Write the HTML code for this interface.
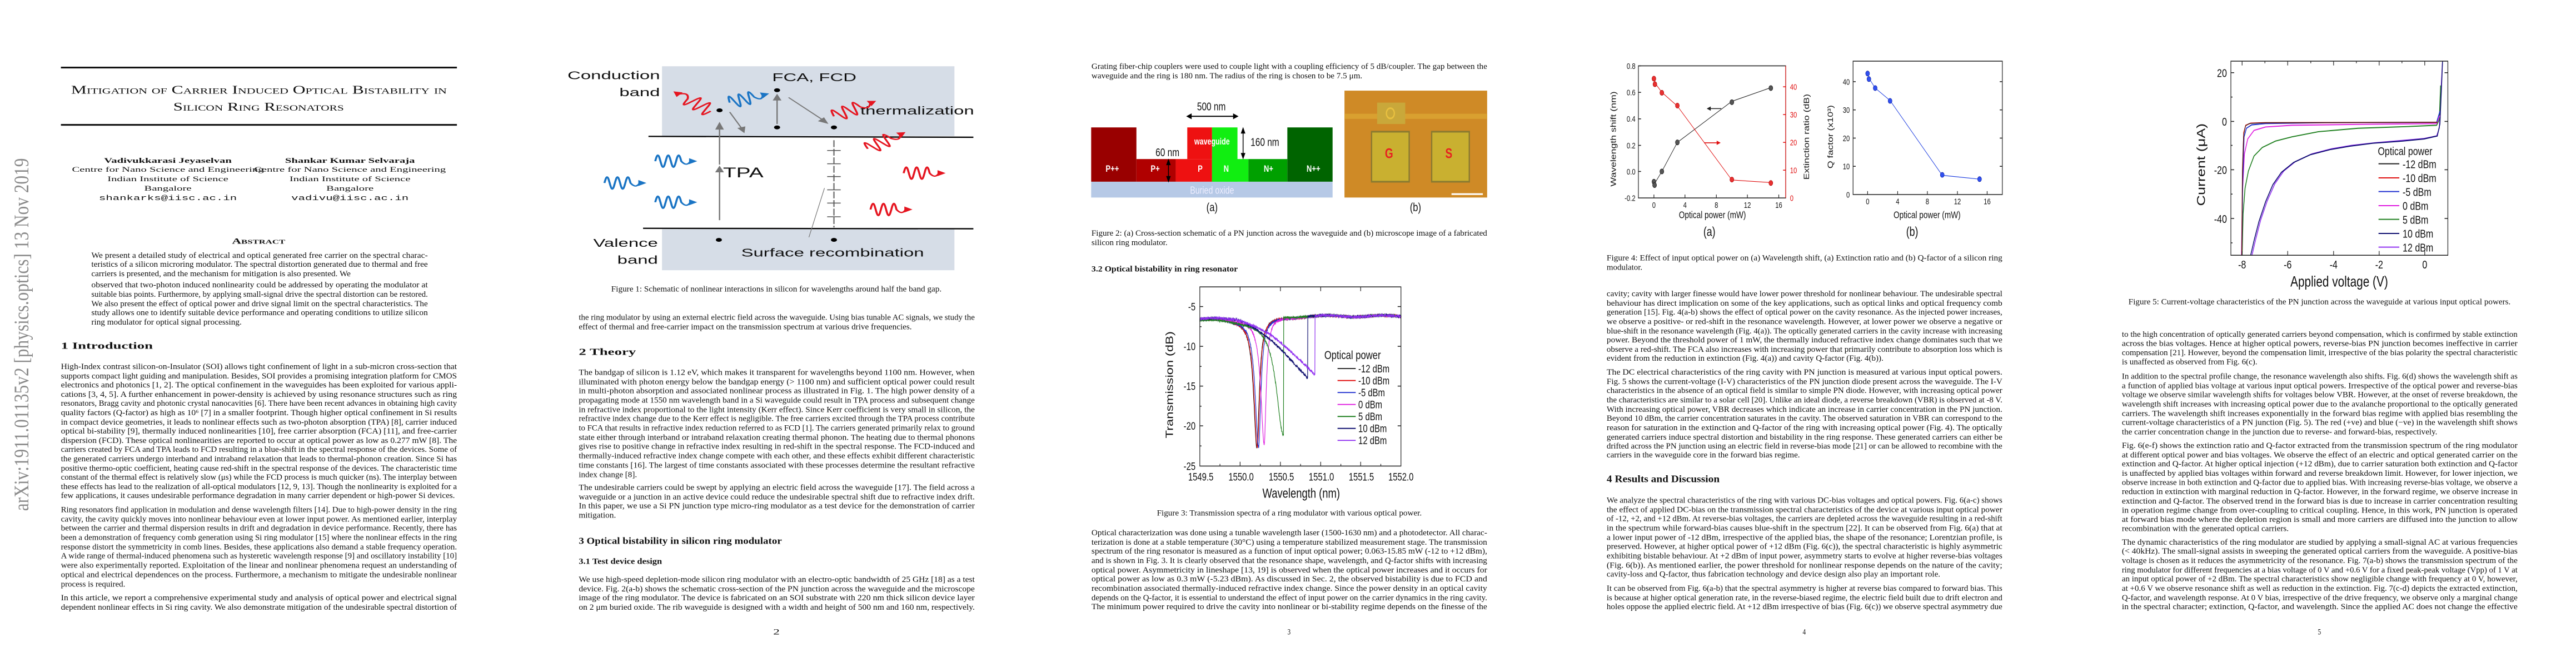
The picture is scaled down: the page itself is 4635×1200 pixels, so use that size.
<!DOCTYPE html>
<html><head><meta charset="utf-8">
<style>
body{margin:0;width:4635px;height:1200px;position:relative;background:#fff;overflow:hidden}
svg{position:absolute;top:0}
.s{font-family:"Liberation Serif",serif;font-size:19px;fill:#111}
.b{font-weight:bold}
.f{font-family:"Liberation Sans",sans-serif;fill:#111}
</style></head><body>

<!-- Pages 1-2 -->
<svg style="left:0" width="1900" height="1200" viewBox="0 0 1560 1560" preserveAspectRatio="none">
<text transform="translate(42,1195) rotate(-90)" textLength="825" lengthAdjust="spacingAndGlyphs" style="font-family:'Liberation Serif',serif;font-size:30px;fill:#8a8a8a">arXiv:1911.01135v2  [physics.optics]  13 Nov 2019</text>
<rect x="90" y="156" width="585" height="4" fill="#111"/>
<rect x="90" y="290" width="585" height="4" fill="#111"/>
<text class="s" x="105" y="219" textLength="555" lengthAdjust="spacingAndGlyphs" style="font-size:27px;font-variant:small-caps">Mitigation of Carrier Induced Optical Bistability in</text>
<text class="s" x="256" y="259" textLength="252" lengthAdjust="spacingAndGlyphs" style="font-size:27px;font-variant:small-caps">Silicon Ring Resonators</text>
<g class="s" text-anchor="middle" style="font-size:17px">
<text x="248" y="381" class="b">Vadivukkarasi Jeyaselvan</text>
<text x="248" y="402">Centre for Nano Science and Engineering</text>
<text x="248" y="424">Indian Institute of Science</text>
<text x="248" y="446">Bangalore</text>
<text x="248" y="468" style="font-family:'Liberation Mono',monospace">shankarks@iisc.ac.in</text>
<text x="517" y="381" class="b">Shankar Kumar Selvaraja</text>
<text x="517" y="402">Centre for Nano Science and Engineering</text>
<text x="517" y="424">Indian Institute of Science</text>
<text x="517" y="446">Bangalore</text>
<text x="517" y="468" style="font-family:'Liberation Mono',monospace">vadivu@iisc.ac.in</text>
<text x="382" y="570" class="b" style="font-size:19px;font-variant:small-caps">Abstract</text>
</g>
<g class="s">
<text x="135" y="603" textLength="497" lengthAdjust="spacingAndGlyphs">We present a detailed study of electrical and optical generated free carrier on the spectral charac-</text>
<text x="135" y="624" textLength="497" lengthAdjust="spacingAndGlyphs">teristics of a silicon microring modulator. The spectral distortion generated due to thermal and free</text>
<text x="135" y="646" textLength="383" lengthAdjust="spacingAndGlyphs">carriers is presented, and the mechanism for mitigation is also presented. We</text>
<text x="135" y="672" textLength="497" lengthAdjust="spacingAndGlyphs">observed that two-photon induced nonlinearity could be addressed by operating the modulator at</text>
<text x="135" y="694" textLength="497" lengthAdjust="spacingAndGlyphs">suitable bias points. Furthermore, by applying small-signal drive the spectral distortion can be restored.</text>
<text x="135" y="716" textLength="497" lengthAdjust="spacingAndGlyphs">We also present the effect of optical power and drive signal limit on the spectral characteristics. The</text>
<text x="135" y="737" textLength="497" lengthAdjust="spacingAndGlyphs">study allows one to identify suitable device performance and operating conditions to utilize silicon</text>
<text x="135" y="759" textLength="222" lengthAdjust="spacingAndGlyphs">ring modulator for optical signal processing.</text>
<text x="90" y="816" class="b" style="font-size:22px">1    Introduction</text>
<text x="90" y="863" textLength="585" lengthAdjust="spacingAndGlyphs">High-Index contrast silicon-on-Insulator (SOI) allows tight confinement of light in a sub-micron cross-section that</text>
<text x="90" y="885" textLength="585" lengthAdjust="spacingAndGlyphs">supports compact light guiding and manipulation. Besides, SOI provides a promising integration platform for CMOS</text>
<text x="90" y="906" textLength="585" lengthAdjust="spacingAndGlyphs">electronics and photonics [1, 2]. The optical confinement in the waveguides has been exploited for various appli-</text>
<text x="90" y="928" textLength="585" lengthAdjust="spacingAndGlyphs">cations [3, 4, 5]. A further enhancement in power-density is achieved by using resonance structures such as ring</text>
<text x="90" y="949" textLength="585" lengthAdjust="spacingAndGlyphs">resonators, Bragg cavity and photonic crystal nanocavities [6]. There have been recent advances in obtaining high cavity</text>
<text x="90" y="971" textLength="585" lengthAdjust="spacingAndGlyphs">quality factors (Q-factor) as high as 10⁶ [7] in a smaller footprint. Though higher optical confinement in Si results</text>
<text x="90" y="993" textLength="585" lengthAdjust="spacingAndGlyphs">in compact device geometries, it leads to nonlinear effects such as two-photon absorption (TPA) [8], carrier induced</text>
<text x="90" y="1014" textLength="585" lengthAdjust="spacingAndGlyphs">optical bi-stability [9], thermally induced nonlinearities [10], free carrier absorption (FCA) [11], and free-carrier</text>
<text x="90" y="1036" textLength="585" lengthAdjust="spacingAndGlyphs">dispersion (FCD). These optical nonlinearities are reported to occur at optical power as low as 0.277 mW [8]. The</text>
<text x="90" y="1057" textLength="585" lengthAdjust="spacingAndGlyphs">carriers created by FCA and TPA leads to FCD resulting in a blue-shift in the spectral response of the devices. Some of</text>
<text x="90" y="1079" textLength="585" lengthAdjust="spacingAndGlyphs">the generated carriers undergo interband and intraband relaxation that leads to thermal-phonon creation. Since Si has</text>
<text x="90" y="1101" textLength="585" lengthAdjust="spacingAndGlyphs">positive thermo-optic coefficient, heating cause red-shift in the spectral response of the devices. The characteristic time</text>
<text x="90" y="1122" textLength="585" lengthAdjust="spacingAndGlyphs">constant of the thermal effect is relatively slow (μs) while the FCD process is much quicker (ns). The interplay between</text>
<text x="90" y="1144" textLength="585" lengthAdjust="spacingAndGlyphs">these effects has lead to the realization of all-optical modulators [12, 9, 13]. Though the nonlinearity is exploited for a</text>
<text x="90" y="1165" textLength="582" lengthAdjust="spacingAndGlyphs">few applications, it causes undesirable performance degradation in many carrier dependent or high-power Si devices.</text>
<text x="90" y="1198" textLength="585" lengthAdjust="spacingAndGlyphs">Ring resonators find application in modulation and dense wavelength filters [14]. Due to high-power density in the ring</text>
<text x="90" y="1220" textLength="585" lengthAdjust="spacingAndGlyphs">cavity, the cavity quickly moves into nonlinear behaviour even at lower input power. As mentioned earlier, interplay</text>
<text x="90" y="1241" textLength="585" lengthAdjust="spacingAndGlyphs">between the carrier and thermal dispersion results in drift and degradation in device performance. Recently, there has</text>
<text x="90" y="1263" textLength="585" lengthAdjust="spacingAndGlyphs">been a demonstration of frequency comb generation using Si ring modulator [15] where the nonlinear effects in the ring</text>
<text x="90" y="1285" textLength="585" lengthAdjust="spacingAndGlyphs">response distort the symmetricity in comb lines. Besides, these applications also demand a stable frequency operation.</text>
<text x="90" y="1306" textLength="585" lengthAdjust="spacingAndGlyphs">A wide range of thermal-induced phenomena such as hysteretic wavelength response [9] and oscillatory instability [10]</text>
<text x="90" y="1328" textLength="585" lengthAdjust="spacingAndGlyphs">were also experimentally reported. Exploitation of the linear and nonlinear phenomena request an understanding of</text>
<text x="90" y="1350" textLength="585" lengthAdjust="spacingAndGlyphs">optical and electrical dependences on the process. Furthermore, a mechanism to mitigate the undesirable nonlinear</text>
<text x="90" y="1372" textLength="95" lengthAdjust="spacingAndGlyphs">process is required.</text>
<text x="90" y="1404" textLength="585" lengthAdjust="spacingAndGlyphs">In this article, we report a comprehensive experimental study and analysis of optical power and electrical signal</text>
<text x="90" y="1426" textLength="585" lengthAdjust="spacingAndGlyphs">dependent nonlinear effects in Si ring cavity. We also demonstrate mitigation of the undesirable spectral distortion of</text>
</g>

<!-- Figure 1 -->
<rect x="978" y="155" width="432" height="163" fill="#d6dde7"/>
<rect x="978" y="536" width="432" height="96" fill="#d6dde7"/>
<line x1="958" y1="319" x2="1438" y2="321" stroke="#000" stroke-width="3"/>
<line x1="950" y1="534" x2="1438" y2="535" stroke="#000" stroke-width="3"/>
<g class="f" style="font-size:27px">
<text x="975" y="185" text-anchor="end">Conduction</text>
<text x="975" y="225" text-anchor="end">band</text>
<text x="972" y="577" text-anchor="end">Valence</text>
<text x="972" y="617" text-anchor="end">band</text>
<text x="1203" y="190" text-anchor="middle">FCA, FCD</text>
<text x="1355" y="268" text-anchor="middle">thermalization</text>
<text x="1098" y="415" text-anchor="middle" style="font-size:32px">TPA</text>
<text x="1230" y="600" text-anchor="middle">Surface recombination</text>
</g>
<g stroke="#777" stroke-width="2" fill="#777">
<line x1="1063" y1="515" x2="1063" y2="400"/><polygon points="1058,402 1068,402 1063,390"/>
<line x1="1063" y1="385" x2="1063" y2="300"/><polygon points="1058,302 1068,302 1063,288"/>
<line x1="1148" y1="290" x2="1148" y2="230"/><polygon points="1143,234 1153,234 1148,222"/>
<line x1="1165" y1="228" x2="1218" y2="283"/><polygon points="1222,288 1210,283 1217,276"/>
<line x1="1078" y1="262" x2="1097" y2="303"/><polygon points="1099,309 1091,300 1100,297"/>
<line x1="1232" y1="328" x2="1232" y2="532" stroke-dasharray="16,4"/>
<line x1="1218" y1="440" x2="1195" y2="555" stroke-width="1"/>
</g>
<g stroke="#555" stroke-width="2">
<line x1="1222" y1="352" x2="1242" y2="352"/><line x1="1222" y1="383" x2="1242" y2="383"/><line x1="1222" y1="413" x2="1242" y2="413"/><line x1="1222" y1="444" x2="1242" y2="444"/><line x1="1222" y1="475" x2="1242" y2="475"/><line x1="1222" y1="507" x2="1242" y2="507"/>
</g>
<g fill="#000"><circle cx="1063" cy="258" r="4.5"/><circle cx="1148" cy="211" r="4.5"/><circle cx="1148" cy="298" r="4.5"/><circle cx="1232" cy="298" r="4.5"/><circle cx="1062" cy="561" r="4.5"/><circle cx="1232" cy="561" r="4.5"/></g>
<g id="waves"></g>
<text class="s" x="1147" y="682" text-anchor="middle" textLength="488" lengthAdjust="spacingAndGlyphs">Figure 1: Schematic of nonlinear interactions in silicon for wavelengths around half the band gap.</text>

<g class="s">
<text x="855" y="748" textLength="585" lengthAdjust="spacingAndGlyphs">the ring modulator by using an external electric field across the waveguide. Using bias tunable AC signals, we study the</text>
<text x="855" y="770" textLength="492" lengthAdjust="spacingAndGlyphs">effect of thermal and free-carrier impact on the transmission spectrum at various drive frequencies.</text>
<text x="855" y="830" class="b" style="font-size:22px">2    Theory</text>
<text x="855" y="877" textLength="585" lengthAdjust="spacingAndGlyphs">The bandgap of silicon is 1.12 eV, which makes it transparent for wavelengths beyond 1100 nm. However, when</text>
<text x="855" y="899" textLength="585" lengthAdjust="spacingAndGlyphs">illuminated with photon energy below the bandgap energy (&gt; 1100 nm) and sufficient optical power could result</text>
<text x="855" y="920" textLength="585" lengthAdjust="spacingAndGlyphs">in multi-photon absorption and associated nonlinear process as illustrated in Fig. 1. The high power density of a</text>
<text x="855" y="942" textLength="585" lengthAdjust="spacingAndGlyphs">propagating mode at 1550 nm wavelength band in a Si waveguide could result in TPA process and subsequent change</text>
<text x="855" y="964" textLength="585" lengthAdjust="spacingAndGlyphs">in refractive index proportional to the light intensity (Kerr effect). Since Kerr coefficient is very small in silicon, the</text>
<text x="855" y="985" textLength="585" lengthAdjust="spacingAndGlyphs">refractive index change due to the Kerr effect is negligible. The free carriers excited through the TPA process contribute</text>
<text x="855" y="1007" textLength="585" lengthAdjust="spacingAndGlyphs">to FCA that results in refractive index reduction referred to as FCD [1]. The carriers generated primarily relax to ground</text>
<text x="855" y="1029" textLength="585" lengthAdjust="spacingAndGlyphs">state either through interband or intraband relaxation creating thermal phonon. The heating due to thermal phonons</text>
<text x="855" y="1050" textLength="585" lengthAdjust="spacingAndGlyphs">gives rise to positive change in refractive index resulting in red-shift in the spectral response. The FCD-induced and</text>
<text x="855" y="1072" textLength="585" lengthAdjust="spacingAndGlyphs">thermally-induced refractive index change compete with each other, and these effects exhibit different characteristic</text>
<text x="855" y="1094" textLength="585" lengthAdjust="spacingAndGlyphs">time constants [16]. The largest of time constants associated with these processes determine the resultant refractive</text>
<text x="855" y="1116" textLength="86" lengthAdjust="spacingAndGlyphs">index change [8].</text>
<text x="855" y="1146" textLength="585" lengthAdjust="spacingAndGlyphs">The undesirable carriers could be swept by applying an electric field across the waveguide [17]. The field across a</text>
<text x="855" y="1168" textLength="585" lengthAdjust="spacingAndGlyphs">waveguide or a junction in an active device could reduce the undesirable spectral shift due to refractive index drift.</text>
<text x="855" y="1189" textLength="585" lengthAdjust="spacingAndGlyphs">In this paper, we use a Si PN junction type micro-ring modulator as a test device for the demonstration of carrier</text>
<text x="855" y="1211" textLength="55" lengthAdjust="spacingAndGlyphs">mitigation.</text>
<text x="855" y="1272" class="b" style="font-size:22px" textLength="300" lengthAdjust="spacingAndGlyphs">3    Optical bistability in silicon ring modulator</text>
<text x="855" y="1319" class="b" style="font-size:19px" textLength="123" lengthAdjust="spacingAndGlyphs">3.1    Test device design</text>
<text x="855" y="1361" textLength="585" lengthAdjust="spacingAndGlyphs">We use high-speed depletion-mode silicon ring modulator with an electro-optic bandwidth of 25 GHz [18] as a test</text>
<text x="855" y="1383" textLength="585" lengthAdjust="spacingAndGlyphs">device. Fig. 2(a-b) shows the schematic cross-section of the PN junction across the waveguide and the microscope</text>
<text x="855" y="1404" textLength="585" lengthAdjust="spacingAndGlyphs">image of the ring modulator. The device is fabricated on an SOI substrate with 220 nm thick silicon device layer</text>
<text x="855" y="1426" textLength="585" lengthAdjust="spacingAndGlyphs">on 2 μm buried oxide. The rib waveguide is designed with a width and height of 500 nm and 160 nm, respectively.</text>
<text x="1147" y="1484" text-anchor="middle">2</text>
<text x="383" y="1484" text-anchor="middle" style="display:none">1</text>
</g>
</svg>

<!-- Page 3 -->
<svg style="left:1854px" width="927" height="1200" viewBox="0 0 1560 1560" preserveAspectRatio="none">
<g class="s">
<text x="185" y="161" textLength="1198" lengthAdjust="spacingAndGlyphs">Grating fiber-chip couplers were used to couple light with a coupling efficiency of 5 dB/coupler. The gap between the</text>
<text x="185" y="183" textLength="820" lengthAdjust="spacingAndGlyphs">waveguide and the ring is 180 nm. The radius of the ring is chosen to be 7.5 μm.</text>
</g>
<!-- Fig 2a -->
<rect x="184" y="298" width="137" height="127" fill="#990000"/>
<rect x="321" y="372" width="119" height="53" fill="#b00000"/>
<rect x="440" y="372" width="110" height="53" fill="#ee1111"/>
<rect x="475" y="298" width="75" height="74" fill="#ee1111"/>
<rect x="550" y="298" width="77" height="127" fill="#11ee11"/>
<rect x="550" y="372" width="110" height="53" fill="#11ee11"/>
<rect x="660" y="372" width="118" height="53" fill="#00a000"/>
<rect x="778" y="298" width="137" height="127" fill="#006400"/>
<rect x="184" y="425" width="731" height="37" fill="#b6c9e6"/>
<g class="f" style="font-size:26px">
<text x="548" y="258" text-anchor="middle">500 nm</text>
<text x="710" y="341" text-anchor="middle">160 nm</text>
<text x="415" y="365" text-anchor="middle">60 nm</text>
<text x="550" y="494" text-anchor="middle" style="font-size:28px">(a)</text>
<text x="1166" y="494" text-anchor="middle" style="font-size:28px">(b)</text>
</g>
<g class="f" style="font-size:22px;font-weight:bold;fill:#fff" text-anchor="middle">
<text x="248" y="402">P++</text><text x="378" y="402">P+</text><text x="514" y="402">P</text><text x="593" y="402">N</text><text x="721" y="402">N+</text><text x="857" y="402">N++</text>
<text x="550" y="338" style="font-size:21px">waveguide</text>
<text x="550" y="453" style="font-weight:normal;font-size:24px;fill:#eef">Buried oxide</text>
</g>
<g stroke="#000" stroke-width="2.5" fill="#000">
<line x1="482" y1="272" x2="620" y2="272"/><polygon points="475,272 487,267 487,277"/><polygon points="627,272 615,267 615,277"/>
<line x1="644" y1="306" x2="644" y2="364"/><polygon points="644,300 639,311 649,311"/><polygon points="644,370 639,359 649,359"/>
<line x1="418" y1="380" x2="418" y2="418"/><polygon points="418,374 413,385 423,385"/><polygon points="418,424 413,413 423,413"/>
</g>
<!-- Fig 2b -->
<rect x="951" y="212" width="432" height="250" fill="#cf8a26"/>
<rect x="951" y="266" width="432" height="12" fill="#d9a030"/>
<rect x="1050" y="240" width="85" height="50" fill="#c9a83a"/>
<circle cx="1090" cy="265" r="12" fill="none" stroke="#e8c040" stroke-width="4"/>
<rect x="1033" y="308" width="114" height="117" fill="#c9b030" stroke="#8a7a30" stroke-width="4"/>
<rect x="1215" y="308" width="114" height="117" fill="#c9b030" stroke="#8a7a30" stroke-width="4"/>
<text class="f" x="1086" y="370" text-anchor="middle" style="font-size:32px;font-weight:bold;fill:#e82020">G</text>
<text class="f" x="1267" y="370" text-anchor="middle" style="font-size:32px;font-weight:bold;fill:#e82020">S</text>
<rect x="1275" y="452" width="95" height="4" fill="#fff"/>
<g class="s">
<text x="185" y="551" textLength="1198" lengthAdjust="spacingAndGlyphs">Figure 2: (a) Cross-section schematic of a PN junction across the waveguide and (b) microscope image of a fabricated</text>
<text x="185" y="573" textLength="230" lengthAdjust="spacingAndGlyphs">silicon ring modulator.</text>
<text x="185" y="635" class="b" textLength="443" lengthAdjust="spacingAndGlyphs">3.2     Optical bistability in ring resonator</text>
</g>
<!-- Fig 3 -->
<g id="fig3"></g>
<rect x="513" y="671" width="609" height="419" fill="none" stroke="#222" stroke-width="2"/>
<g stroke="#222" stroke-width="2">
<line x1="513" y1="717" x2="523" y2="717"/><line x1="513" y1="810" x2="523" y2="810"/><line x1="513" y1="903" x2="523" y2="903"/><line x1="513" y1="996" x2="523" y2="996"/>
<line x1="513" y1="764" x2="518" y2="764"/><line x1="513" y1="857" x2="518" y2="857"/><line x1="513" y1="950" x2="518" y2="950"/><line x1="513" y1="1043" x2="518" y2="1043"/>
<line x1="1112" y1="717" x2="1122" y2="717"/><line x1="1112" y1="810" x2="1122" y2="810"/><line x1="1112" y1="903" x2="1122" y2="903"/><line x1="1112" y1="996" x2="1122" y2="996"/>
<line x1="635" y1="1090" x2="635" y2="1080"/><line x1="757" y1="1090" x2="757" y2="1080"/><line x1="879" y1="1090" x2="879" y2="1080"/><line x1="1000" y1="1090" x2="1000" y2="1080"/>
<line x1="574" y1="1090" x2="574" y2="1085"/><line x1="696" y1="1090" x2="696" y2="1085"/><line x1="818" y1="1090" x2="818" y2="1085"/><line x1="940" y1="1090" x2="940" y2="1085"/><line x1="1061" y1="1090" x2="1061" y2="1085"/>
<line x1="635" y1="671" x2="635" y2="681"/><line x1="757" y1="671" x2="757" y2="681"/><line x1="879" y1="671" x2="879" y2="681"/><line x1="1000" y1="671" x2="1000" y2="681"/>
</g>
<g class="f" style="font-size:25px" text-anchor="end">
<text x="500" y="726">-5</text><text x="500" y="819">-10</text><text x="500" y="912">-15</text><text x="500" y="1005">-20</text><text x="500" y="1099">-25</text>
</g>
<g class="f" style="font-size:25px" text-anchor="middle">
<text x="516" y="1124">1549.5</text><text x="638" y="1124">1550.0</text><text x="760" y="1124">1550.5</text><text x="881" y="1124">1551.0</text><text x="1002" y="1124">1551.5</text><text x="1122" y="1124">1552.0</text>
<text x="820" y="1164" style="font-size:31px">Wavelength (nm)</text>
<text transform="translate(432,900) rotate(-90)" style="font-size:31px">Transmission (dB)</text>
</g>
<g class="f" style="font-size:25px">
<text x="890" y="840" style="font-size:28px">Optical power</text>
<text x="993" y="871">-12 dBm</text><text x="993" y="899">-10 dBm</text><text x="993" y="927">-5 dBm</text><text x="993" y="955">0 dBm</text><text x="993" y="983">5 dBm</text><text x="993" y="1011">10 dBm</text><text x="993" y="1039">12 dBm</text>
</g>
<g stroke-width="2.5">
<line x1="930" x2="985" y1="862" y2="862" stroke="#222"/><line x1="930" x2="985" y1="890" y2="890" stroke="#e01010"/><line x1="930" x2="985" y1="918" y2="918" stroke="#2030d0"/><line x1="930" x2="985" y1="946" y2="946" stroke="#e020e0"/><line x1="930" x2="985" y1="974" y2="974" stroke="#208020"/><line x1="930" x2="985" y1="1002" y2="1002" stroke="#101070"/><line x1="930" x2="985" y1="1030" y2="1030" stroke="#9030f0"/>
</g>
<g class="s">
<text x="383" y="1206" textLength="802" lengthAdjust="spacingAndGlyphs">Figure 3: Transmission spectra of a ring modulator with various optical power.</text>
<text x="185" y="1252" textLength="1198" lengthAdjust="spacingAndGlyphs">Optical characterization was done using a tunable wavelength laser (1500-1630 nm) and a photodetector. All charac-</text>
<text x="185" y="1274" textLength="1198" lengthAdjust="spacingAndGlyphs">terization is done at a stable temperature (30°C) using a temperature stabilized measurement stage. The transmission</text>
<text x="185" y="1295" textLength="1198" lengthAdjust="spacingAndGlyphs">spectrum of the ring resonator is measured as a function of input optical power; 0.063-15.85 mW (-12 to +12 dBm),</text>
<text x="185" y="1317" textLength="1198" lengthAdjust="spacingAndGlyphs">and is shown in Fig. 3. It is clearly observed that the resonance shape, wavelength, and Q-factor shifts with increasing</text>
<text x="185" y="1339" textLength="1198" lengthAdjust="spacingAndGlyphs">optical power. Asymmetricity in lineshape [13, 19] is observed when the optical power increases and it occurs for</text>
<text x="185" y="1360" textLength="1198" lengthAdjust="spacingAndGlyphs">optical power as low as 0.3 mW (-5.23 dBm). As discussed in Sec. 2, the observed bistability is due to FCD and</text>
<text x="185" y="1382" textLength="1198" lengthAdjust="spacingAndGlyphs">recombination associated thermally-induced refractive index change. Since the power density in an optical cavity</text>
<text x="185" y="1404" textLength="1198" lengthAdjust="spacingAndGlyphs">depends on the Q-factor, it is essential to understand the effect of input power on the carrier dynamics in the ring cavity.</text>
<text x="185" y="1425" textLength="1198" lengthAdjust="spacingAndGlyphs">The minimum power required to drive the cavity into nonlinear or bi-stability regime depends on the finesse of the</text>
<text x="783" y="1484" text-anchor="middle">3</text>
</g>
</svg>

<!-- Page 4 -->
<svg style="left:2781px" width="927" height="1200" viewBox="0 0 1560 1560" preserveAspectRatio="none">
<rect x="281" y="154" width="446" height="309" fill="none" stroke="#222" stroke-width="2"/>
<line x1="727" y1="154" x2="727" y2="463" stroke="#e01010" stroke-width="2"/>
<g stroke="#222" stroke-width="2">
<line x1="281" y1="154" x2="289" y2="154"/><line x1="281" y1="216" x2="289" y2="216"/><line x1="281" y1="278" x2="289" y2="278"/><line x1="281" y1="340" x2="289" y2="340"/><line x1="281" y1="401" x2="289" y2="401"/>
<line x1="328" y1="463" x2="328" y2="455"/><line x1="422" y1="463" x2="422" y2="455"/><line x1="517" y1="463" x2="517" y2="455"/><line x1="611" y1="463" x2="611" y2="455"/><line x1="706" y1="463" x2="706" y2="455"/>
</g>
<g stroke="#e01010" stroke-width="2">
<line x1="719" y1="203" x2="727" y2="203"/><line x1="719" y1="268" x2="727" y2="268"/><line x1="719" y1="333" x2="727" y2="333"/><line x1="719" y1="398" x2="727" y2="398"/>
</g>
<polyline points="328,429 328,432 352,401 399,333 564,237 682,205" fill="none" stroke="#222" stroke-width="1.5"/>
<polyline points="328,183 333,196 352,216 399,248 564,421 682,427" fill="none" stroke="#e01010" stroke-width="1.5"/>
<g fill="#555" stroke="#111"><circle cx="328" cy="425" r="6"/><circle cx="330" cy="433" r="6"/><circle cx="352" cy="401" r="6"/><circle cx="399" cy="333" r="6"/><circle cx="564" cy="239" r="6"/><circle cx="682" cy="206" r="6"/></g>
<g fill="#e83030" stroke="#a00"><circle cx="328" cy="184" r="6"/><circle cx="331" cy="197" r="6"/><circle cx="352" cy="217" r="6"/><circle cx="399" cy="247" r="6"/><circle cx="564" cy="420" r="6"/><circle cx="682" cy="428" r="6"/></g>
<line x1="490" y1="254" x2="532" y2="254" stroke="#222" stroke-width="2"/><polygon points="488,254 500,249 500,259" fill="#222"/>
<line x1="480" y1="334" x2="520" y2="334" stroke="#e01010" stroke-width="2"/><polygon points="530,334 518,329 518,339" fill="#e01010"/>
<g class="f" style="font-size:19px" text-anchor="end">
<text x="272" y="161">0.8</text><text x="272" y="223">0.6</text><text x="272" y="285">0.4</text><text x="272" y="347">0.2</text><text x="272" y="408">0.0</text><text x="272" y="470">-0.2</text>
</g>
<g class="f" style="font-size:19px;fill:#e01010">
<text x="740" y="210">40</text><text x="740" y="275">30</text><text x="740" y="340">20</text><text x="740" y="405">10</text><text x="740" y="470">0</text>
</g>
<g class="f" style="font-size:19px" text-anchor="middle">
<text x="328" y="486">0</text><text x="422" y="486">4</text><text x="517" y="486">8</text><text x="611" y="486">12</text><text x="706" y="486">16</text>
<text x="505" y="510" style="font-size:23px">Optical power (mW)</text>
<text x="496" y="552" style="font-size:30px">(a)</text>
<text transform="translate(213,325) rotate(-90)" style="font-size:23px">Wavelength shift (nm)</text>
<text transform="translate(798,320) rotate(-90)" style="font-size:23px">Extinction ratio (dB)</text>
</g>
<!-- 4b -->
<rect x="931" y="143" width="452" height="312" fill="none" stroke="#222" stroke-width="2"/>
<g stroke="#222" stroke-width="2">
<line x1="931" y1="191" x2="939" y2="191"/><line x1="931" y1="257" x2="939" y2="257"/><line x1="931" y1="323" x2="939" y2="323"/><line x1="931" y1="389" x2="939" y2="389"/>
<line x1="1375" y1="191" x2="1383" y2="191"/><line x1="1375" y1="257" x2="1383" y2="257"/><line x1="1375" y1="323" x2="1383" y2="323"/><line x1="1375" y1="389" x2="1383" y2="389"/>
<line x1="975" y1="455" x2="975" y2="447"/><line x1="1066" y1="455" x2="1066" y2="447"/><line x1="1156" y1="455" x2="1156" y2="447"/><line x1="1247" y1="455" x2="1247" y2="447"/><line x1="1337" y1="455" x2="1337" y2="447"/>
</g>
<polyline points="975,171 980,184 998,206 1043,235 1201,410 1314,419" fill="none" stroke="#2040e0" stroke-width="1.5"/>
<g fill="#3050f0" stroke="#1020a0"><circle cx="975" cy="172" r="6"/><circle cx="979" cy="185" r="6"/><circle cx="998" cy="206" r="6"/><circle cx="1043" cy="236" r="6"/><circle cx="1201" cy="409" r="6"/><circle cx="1314" cy="419" r="6"/></g>
<g class="f" style="font-size:19px" text-anchor="end">
<text x="921" y="198">40</text><text x="921" y="264">30</text><text x="921" y="330">20</text><text x="921" y="396">10</text><text x="921" y="462">0</text>
</g>
<g class="f" style="font-size:19px" text-anchor="middle">
<text x="975" y="478">0</text><text x="1066" y="478">4</text><text x="1156" y="478">8</text><text x="1247" y="478">12</text><text x="1337" y="478">16</text>
<text x="1155" y="510" style="font-size:23px">Optical power (mW)</text>
<text x="1110" y="552" style="font-size:30px">(b)</text>
<text transform="translate(870,320) rotate(-90)" style="font-size:23px">Q factor (x10³)</text>
</g>
<g class="s">
<text x="185" y="609" textLength="1198" lengthAdjust="spacingAndGlyphs">Figure 4: Effect of input optical power on (a) Wavelength shift, (a) Extinction ratio and (b) Q-factor of a silicon ring</text>
<text x="185" y="631" textLength="108" lengthAdjust="spacingAndGlyphs">modulator.</text>
<text x="185" y="693" textLength="1198" lengthAdjust="spacingAndGlyphs">cavity; cavity with larger finesse would have lower power threshold for nonlinear behaviour. The undesirable spectral</text>
<text x="185" y="715" textLength="1198" lengthAdjust="spacingAndGlyphs">behaviour has direct implication on some of the key applications, such as optical links and optical frequency comb</text>
<text x="185" y="736" textLength="1198" lengthAdjust="spacingAndGlyphs">generation [15]. Fig. 4(a-b) shows the effect of optical power on the cavity resonance. As the injected power increases,</text>
<text x="185" y="758" textLength="1198" lengthAdjust="spacingAndGlyphs">we observe a positive- or red-shift in the resonance wavelength. However, at lower power we observe a negative or</text>
<text x="185" y="780" textLength="1198" lengthAdjust="spacingAndGlyphs">blue-shift in the resonance wavelength (Fig. 4(a)). The optically generated carriers in the cavity increase with increasing</text>
<text x="185" y="801" textLength="1198" lengthAdjust="spacingAndGlyphs">power. Beyond the threshold power of 1 mW, the thermally induced refractive index change dominates such that we</text>
<text x="185" y="823" textLength="1198" lengthAdjust="spacingAndGlyphs">observe a red-shift. The FCA also increases with increasing power that primarily contribute to absorption loss which is</text>
<text x="185" y="844" textLength="838" lengthAdjust="spacingAndGlyphs">evident from the reduction in extinction (Fig. 4(a)) and cavity Q-factor (Fig. 4(b)).</text>
<text x="185" y="876" textLength="1198" lengthAdjust="spacingAndGlyphs">The DC electrical characteristics of the ring cavity with PN junction is measured at various input optical powers.</text>
<text x="185" y="898" textLength="1198" lengthAdjust="spacingAndGlyphs">Fig. 5 shows the current-voltage (I-V) characteristics of the PN junction diode present across the waveguide. The I-V</text>
<text x="185" y="919" textLength="1198" lengthAdjust="spacingAndGlyphs">characteristics in the absence of an optical field is similar to simple PN diode. However, with increasing optical power</text>
<text x="185" y="941" textLength="1198" lengthAdjust="spacingAndGlyphs">the characteristics are similar to a solar cell [20]. Unlike an ideal diode, a reverse breakdown (VBR) is observed at -8 V.</text>
<text x="185" y="963" textLength="1198" lengthAdjust="spacingAndGlyphs">With increasing optical power, VBR decreases which indicate an increase in carrier concentration in the PN junction.</text>
<text x="185" y="984" textLength="1198" lengthAdjust="spacingAndGlyphs">Beyond 10 dBm, the carrier concentration saturates in the cavity. The observed saturation in VBR can correspond to the</text>
<text x="185" y="1006" textLength="1198" lengthAdjust="spacingAndGlyphs">reason for saturation in the extinction and Q-factor of the ring with increasing optical power (Fig. 4). The optically</text>
<text x="185" y="1028" textLength="1198" lengthAdjust="spacingAndGlyphs">generated carriers induce spectral distortion and bistability in the ring response. These generated carriers can either be</text>
<text x="185" y="1049" textLength="1198" lengthAdjust="spacingAndGlyphs">drifted across the PN junction using an electric field in reverse-bias mode [21] or can be allowed to recombine with the</text>
<text x="185" y="1070" textLength="585" lengthAdjust="spacingAndGlyphs">carriers in the waveguide core in the forward bias regime.</text>
<text x="185" y="1128" class="b" style="font-size:23px" textLength="342" lengthAdjust="spacingAndGlyphs">4    Results and Discussion</text>
<text x="185" y="1176" textLength="1198" lengthAdjust="spacingAndGlyphs">We analyze the spectral characteristics of the ring with various DC-bias voltages and optical powers. Fig. 6(a-c) shows</text>
<text x="185" y="1198" textLength="1198" lengthAdjust="spacingAndGlyphs">the effect of applied DC-bias on the transmission spectral characteristics of the device at various input optical power</text>
<text x="185" y="1219" textLength="1198" lengthAdjust="spacingAndGlyphs">of -12, +2, and +12 dBm. At reverse-bias voltages, the carriers are depleted across the waveguide resulting in a red-shift</text>
<text x="185" y="1241" textLength="1198" lengthAdjust="spacingAndGlyphs">in the spectrum while forward-bias causes blue-shift in the spectrum [22]. It can be observed from Fig. 6(a) that at</text>
<text x="185" y="1263" textLength="1198" lengthAdjust="spacingAndGlyphs">a lower input power of -12 dBm, irrespective of the applied bias, the shape of the resonance; Lorentzian profile, is</text>
<text x="185" y="1284" textLength="1198" lengthAdjust="spacingAndGlyphs">preserved. However, at higher optical power of +12 dBm (Fig. 6(c)), the spectral characteristic is highly asymmetric</text>
<text x="185" y="1306" textLength="1198" lengthAdjust="spacingAndGlyphs">exhibiting bistable behaviour. At +2 dBm of input power, asymmetry starts to evolve at higher reverse-bias voltages</text>
<text x="185" y="1328" textLength="1198" lengthAdjust="spacingAndGlyphs">(Fig. 6(b)). As mentioned earlier, the power threshold for nonlinear response depends on the nature of the cavity;</text>
<text x="185" y="1349" textLength="1010" lengthAdjust="spacingAndGlyphs">cavity-loss and Q-factor, thus fabrication technology and device design also play an important role.</text>
<text x="185" y="1382" textLength="1198" lengthAdjust="spacingAndGlyphs">It can be observed from Fig. 6(a-b) that the spectral asymmetry is higher at reverse bias compared to forward bias. This</text>
<text x="185" y="1404" textLength="1198" lengthAdjust="spacingAndGlyphs">is because at higher optical generation rate, in the reverse-biased regime, the electric field built due to drift electron and</text>
<text x="185" y="1425" textLength="1198" lengthAdjust="spacingAndGlyphs">holes oppose the applied electric field. At +12 dBm irrespective of bias (Fig. 6(c)) we observe spectral asymmetry due</text>
<text x="783" y="1484" text-anchor="middle">4</text>
</g>
</svg>

<!-- Page 5 -->
<svg style="left:3708px" width="927" height="1200" viewBox="0 0 1560 1560" preserveAspectRatio="none">
<defs><clipPath id="c5"><rect x="515" y="143" width="657" height="454"/></clipPath></defs>
<g clip-path="url(#c5)" fill="none" stroke-width="2.5">
<polyline stroke="#9030f0" points="578,600 590,560 605,515 625,470 648,430 675,400 710,378 760,360 820,348 880,340 950,334 1040,328 1100,324 1138,318 1146,300 1152,200 1156,140"/>
<polyline stroke="#101070" points="574,600 586,560 600,518 620,472 642,432 668,403 705,380 755,362 815,350 875,342 945,335 1035,330 1100,325 1140,318 1148,290 1153,200 1156,140"/>
<polyline stroke="#208020" points="549,600 552,500 558,440 568,400 585,365 610,345 650,330 700,320 780,308 900,300 1050,296 1138,293 1146,280 1150,200"/>
<polyline stroke="#e020e0" points="547,600 550,450 556,360 566,325 585,305 620,297 700,293 900,291 1138,289 1148,270"/>
<polyline stroke="#2030d0" points="548,600 551,420 555,320 562,300 578,292 620,289 800,287 1138,286 1148,260"/>
<polyline stroke="#e01010" points="548,600 550,400 554,310 560,293 575,288 620,287 1140,286"/>
<polyline stroke="#222" points="548,600 550,410 553,320 559,295 570,289 620,287 1140,286" stroke-width="1.5"/>
</g>
<rect x="515" y="143" width="657" height="454" fill="none" stroke="#222" stroke-width="2"/>
<g stroke="#222" stroke-width="2">
<line x1="515" y1="170" x2="525" y2="170"/><line x1="515" y1="284" x2="525" y2="284"/><line x1="515" y1="397" x2="525" y2="397"/><line x1="515" y1="511" x2="525" y2="511"/>
<line x1="515" y1="227" x2="520" y2="227"/><line x1="515" y1="340" x2="520" y2="340"/><line x1="515" y1="454" x2="520" y2="454"/><line x1="515" y1="568" x2="520" y2="568"/>
<line x1="1162" y1="170" x2="1172" y2="170"/><line x1="1162" y1="284" x2="1172" y2="284"/><line x1="1162" y1="397" x2="1172" y2="397"/><line x1="1162" y1="511" x2="1172" y2="511"/>
<line x1="549" y1="597" x2="549" y2="587"/><line x1="687" y1="597" x2="687" y2="587"/><line x1="826" y1="597" x2="826" y2="587"/><line x1="964" y1="597" x2="964" y2="587"/><line x1="1102" y1="597" x2="1102" y2="587"/>
<line x1="549" y1="143" x2="549" y2="153"/><line x1="687" y1="143" x2="687" y2="153"/><line x1="826" y1="143" x2="826" y2="153"/><line x1="964" y1="143" x2="964" y2="153"/><line x1="1102" y1="143" x2="1102" y2="153"/>
<line x1="618" y1="143" x2="618" y2="148"/><line x1="757" y1="143" x2="757" y2="148"/><line x1="895" y1="143" x2="895" y2="148"/><line x1="1033" y1="143" x2="1033" y2="148"/>
</g>
<g class="f" style="font-size:27px" text-anchor="end">
<text x="503" y="180">20</text><text x="503" y="294">0</text><text x="503" y="407">-20</text><text x="503" y="521">-40</text>
</g>
<g class="f" style="font-size:27px" text-anchor="middle">
<text x="549" y="628">-8</text><text x="687" y="628">-6</text><text x="826" y="628">-4</text><text x="964" y="628">-2</text><text x="1102" y="628">0</text>
<text x="843" y="670" style="font-size:35px">Applied voltage (V)</text>
<text transform="translate(437,385) rotate(-90)" style="font-size:35px">Current (μA)</text>
</g>
<g class="f" style="font-size:27px">
<text x="960" y="363">Optical power</text>
<text x="1035" y="393">-12 dBm</text><text x="1035" y="426">-10 dBm</text><text x="1035" y="458">-5 dBm</text><text x="1035" y="491">0 dBm</text><text x="1035" y="523">5 dBm</text><text x="1035" y="556">10 dBm</text><text x="1035" y="588">12 dBm</text>
</g>
<g stroke-width="2.5">
<line x1="962" x2="1025" y1="383" y2="383" stroke="#222"/><line x1="962" x2="1025" y1="416" y2="416" stroke="#e01010"/><line x1="962" x2="1025" y1="448" y2="448" stroke="#2030d0"/><line x1="962" x2="1025" y1="481" y2="481" stroke="#e020e0"/><line x1="962" x2="1025" y1="513" y2="513" stroke="#208020"/><line x1="962" x2="1025" y1="546" y2="546" stroke="#101070"/><line x1="962" x2="1025" y1="578" y2="578" stroke="#9030f0"/>
</g>
<g class="s">
<text x="205" y="712" textLength="1157" lengthAdjust="spacingAndGlyphs">Figure 5: Current-voltage characteristics of the PN junction across the waveguide at various input optical powers.</text>
<text x="185" y="788" textLength="1198" lengthAdjust="spacingAndGlyphs">to the high concentration of optically generated carriers beyond compensation, which is confirmed by stable extinction</text>
<text x="185" y="809" textLength="1198" lengthAdjust="spacingAndGlyphs">across the bias voltages. Hence at higher optical powers, reverse-bias PN junction becomes ineffective in carrier</text>
<text x="185" y="831" textLength="1198" lengthAdjust="spacingAndGlyphs">compensation [21]. However, beyond the compensation limit, irrespective of the bias polarity the spectral characteristic</text>
<text x="185" y="852" textLength="410" lengthAdjust="spacingAndGlyphs">is unaffected as observed from Fig. 6(c).</text>
<text x="185" y="886" textLength="1198" lengthAdjust="spacingAndGlyphs">In addition to the spectral profile change, the resonance wavelength also shifts. Fig. 6(d) shows the wavelength shift as</text>
<text x="185" y="908" textLength="1198" lengthAdjust="spacingAndGlyphs">a function of applied bias voltage at various input optical powers. Irrespective of the optical power and reverse-bias</text>
<text x="185" y="929" textLength="1198" lengthAdjust="spacingAndGlyphs">voltage we observe similar wavelength shifts for voltages below VBR. However, at the onset of reverse breakdown, the</text>
<text x="185" y="951" textLength="1198" lengthAdjust="spacingAndGlyphs">wavelength shift increases with increasing optical power due to the avalanche proportional to the optically generated</text>
<text x="185" y="973" textLength="1198" lengthAdjust="spacingAndGlyphs">carriers. The wavelength shift increases exponentially in the forward bias regime with applied bias resembling the</text>
<text x="185" y="994" textLength="1198" lengthAdjust="spacingAndGlyphs">current-voltage characteristics of a PN junction (Fig. 5). The red (+ve) and blue (−ve) in the wavelength shift shows</text>
<text x="185" y="1016" textLength="955" lengthAdjust="spacingAndGlyphs">the carrier concentration change in the junction due to reverse- and forward-bias, respectively.</text>
<text x="185" y="1048" textLength="1198" lengthAdjust="spacingAndGlyphs">Fig. 6(e-f) shows the extinction ratio and Q-factor extracted from the transmission spectrum of the ring modulator</text>
<text x="185" y="1070" textLength="1198" lengthAdjust="spacingAndGlyphs">at different optical power and bias voltages. We observe the effect of an electric and optical generated carrier on the</text>
<text x="185" y="1091" textLength="1198" lengthAdjust="spacingAndGlyphs">extinction and Q-factor. At higher optical injection (+12 dBm), due to carrier saturation both extinction and Q-factor</text>
<text x="185" y="1113" textLength="1198" lengthAdjust="spacingAndGlyphs">is unaffected by applied bias voltages within forward and reverse breakdown limit. However, for lower injection, we</text>
<text x="185" y="1134" textLength="1198" lengthAdjust="spacingAndGlyphs">observe increase in both extinction and Q-factor due to applied bias. With increasing reverse-bias voltage, we observe a</text>
<text x="185" y="1156" textLength="1198" lengthAdjust="spacingAndGlyphs">reduction in extinction with marginal reduction in Q-factor. However, in the forward regime, we observe increase in</text>
<text x="185" y="1178" textLength="1198" lengthAdjust="spacingAndGlyphs">extinction and Q-factor. The observed trend in the forward bias is due to increase in carrier concentration resulting</text>
<text x="185" y="1199" textLength="1198" lengthAdjust="spacingAndGlyphs">in operation regime change from over-coupling to critical coupling. Hence, in this work, PN junction is operated</text>
<text x="185" y="1221" textLength="1198" lengthAdjust="spacingAndGlyphs">at forward bias mode where the depletion region is small and more carriers are diffused into the junction to allow</text>
<text x="185" y="1242" textLength="505" lengthAdjust="spacingAndGlyphs">recombination with the generated optical carriers.</text>
<text x="185" y="1274" textLength="1198" lengthAdjust="spacingAndGlyphs">The dynamic characteristics of the ring modulator are studied by applying a small-signal AC at various frequencies</text>
<text x="185" y="1295" textLength="1198" lengthAdjust="spacingAndGlyphs">(&lt; 40kHz). The small-signal assists in sweeping the generated optical carriers from the waveguide. A positive-bias</text>
<text x="185" y="1317" textLength="1198" lengthAdjust="spacingAndGlyphs">voltage is chosen as it reduces the asymmetricity of the resonance. Fig. 7(a-b) shows the transmission spectrum of the</text>
<text x="185" y="1339" textLength="1198" lengthAdjust="spacingAndGlyphs">ring modulator for different frequencies at a bias voltage of 0 V and +0.6 V for a fixed peak-peak voltage (Vpp) of 1 V at</text>
<text x="185" y="1360" textLength="1198" lengthAdjust="spacingAndGlyphs">an input optical power of +2 dBm. The spectral characteristics show negligible change with frequency at 0 V, however,</text>
<text x="185" y="1382" textLength="1198" lengthAdjust="spacingAndGlyphs">at +0.6 V we observe resonance shift as well as reduction in the extinction. Fig. 7(c-d) depicts the extracted extinction,</text>
<text x="185" y="1404" textLength="1198" lengthAdjust="spacingAndGlyphs">Q-factor, and wavelength response. At 0 V bias, irrespective of the drive frequency, we observe only a marginal change</text>
<text x="185" y="1425" textLength="1198" lengthAdjust="spacingAndGlyphs">in the spectral character; extinction, Q-factor, and wavelength. Since the applied AC does not change the effective</text>
<text x="783" y="1484" text-anchor="middle">5</text>
</g>
</svg>

<script>
(function(){
var NS="http://www.w3.org/2000/svg";
// waves for figure 1
var W=document.getElementById("waves");
function wave(x,y,ang,len,col){
  var d="M0,0",n=60,L=len*0.62;
  for(var i=1;i<=n;i++){var t=i/n;d+=" L"+(t*L).toFixed(1)+","+(-14*Math.sin(t*Math.PI*5)).toFixed(1);}
  d+=" Q"+(L+8)+",14 "+(len-10)+",0";
  var g=document.createElementNS(NS,"g");g.setAttribute("transform","translate("+x+","+y+") rotate("+ang+")");
  var p=document.createElementNS(NS,"path");p.setAttribute("d",d);p.setAttribute("fill","none");p.setAttribute("stroke",col);p.setAttribute("stroke-width","3");
  var a=document.createElementNS(NS,"polygon");a.setAttribute("points",(len-12)+",-7 "+len+",0 "+(len-12)+",7");a.setAttribute("fill",col);
  g.appendChild(p);g.appendChild(a);W.appendChild(g);
}
var B="#1a74c4",R="#e51520";
wave(893,428,0,62,B);wave(968,377,0,62,B);wave(968,473,0,62,B);wave(1078,240,-20,62,B);
wave(1050,260,-140,72,R);wave(1232,272,-30,72,R);wave(1282,348,-35,68,R);wave(1335,405,0,62,R);wave(1286,490,0,62,R);
// fig 3
var F=document.getElementById("fig3");
function X(l){return 513+(l-1549.5)*243.6}
function Y(db){return 717+(-5-db)*18.6}
var seed=1;function rnd(){seed=(seed*16807)%2147483647;return seed/2147483647-0.5;}
function base(l){return -6.55+0.35*Math.min(1,Math.max(0,(l-1550.3)/0.5))-0.1*Math.sin(l*9);}
function lor(l0,d,wl,wr){return function(l){var w=l<l0?wl:wr;return base(l)-d/(1+Math.pow((l-l0)/w,2));}}
function tri(l0,end,start,p){return function(l){if(l>l0)return base(l);if(l<start)return base(l);return base(l)-(base(l0)-end)*Math.pow((l-start)/(l0-start),p);}}
function grn(l){if(l>1550.54)return base(l);return base(l)-14.8/(1+Math.pow((l-1550.54)/0.11,2));}
var S=[[lor(1550.21,16.2,0.05,0.035),"#222"],[lor(1550.215,16.2,0.05,0.035),"#e01010"],[lor(1550.23,16.2,0.05,0.035),"#2030d0"],[lor(1550.30,15.8,0.05,0.03),"#e020e0"],[grn,"#208020"],[tri(1550.84,-14,1549.95,1.4),"#101070"],[tri(1550.93,-13.6,1549.9,1.6),"#9030f0"]];
S.forEach(function(s){
  var d="",f=s[0];
  for(var i=0;i<=1000;i++){var l=1549.5+2.5*i/1000;var v=f(l)+rnd()*0.25;d+=(i?" L":"M")+X(l).toFixed(1)+","+Y(v).toFixed(1);}
  var p=document.createElementNS(NS,"path");p.setAttribute("d",d);p.setAttribute("fill","none");p.setAttribute("stroke",s[1]);p.setAttribute("stroke-width","2");F.appendChild(p);
});
})();
</script>
</body></html>
